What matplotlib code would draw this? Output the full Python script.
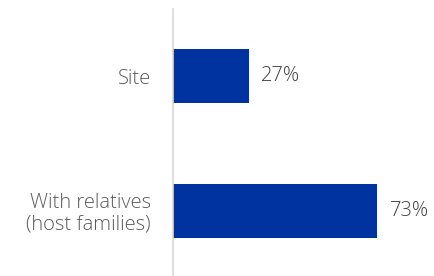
import matplotlib.pyplot as plt

categories = ['Site', 'With relatives\n(host families)']
values = [27, 73]
labels = ['27%', '73%']

plt.rcParams['font.family'] = ['Open Sans', 'DejaVu Sans']

fig = plt.figure(figsize=(4.35, 2.76), dpi=100)
ax = fig.add_axes([173/435, 0, 262/435, 267/276])

pos = list(range(len(categories)))
ax.barh(pos, values, height=0.40, color='#0033a0')
ax.set_xlim(0, 262/2.8)
ax.set_ylim(1.483, -0.5)

for p, v, t in zip(pos, values, labels):
    ax.annotate(t, (v, p), xytext=(9, 0), textcoords='offset points',
                va='center', ha='left', fontsize=14.5, color='#404040',
                fontweight=300)

ax.set_yticks(pos)
ax.set_yticklabels(categories, fontsize=14.5, color='#5a5a5a',
                   fontweight=300, linespacing=1.1)
ax.tick_params(axis='y', length=0, pad=16)
ax.set_xticks([])
for s in ['top', 'right', 'bottom']:
    ax.spines[s].set_visible(False)
ax.spines['left'].set_color('#d9d9d9')
ax.spines['left'].set_linewidth(1.2)

fig.savefig('out.png', dpi=100)
